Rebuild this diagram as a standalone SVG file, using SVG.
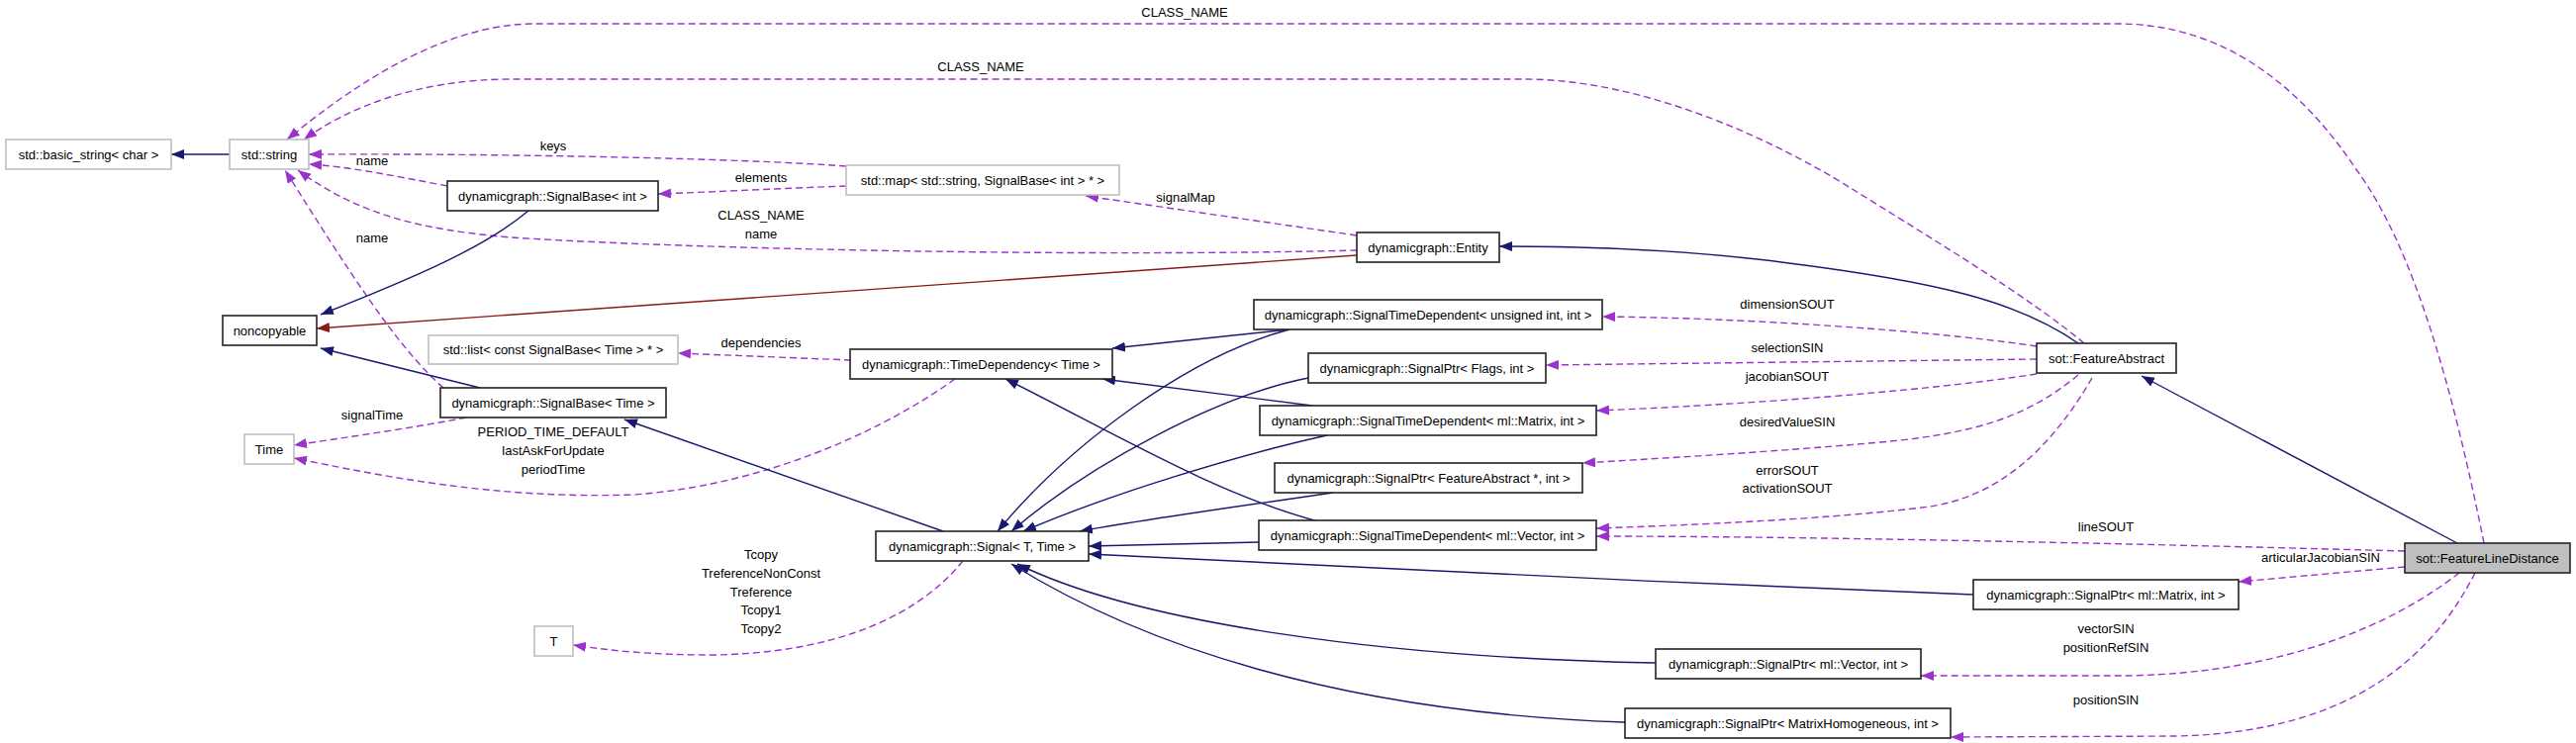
<svg xmlns="http://www.w3.org/2000/svg" width="2603" height="751" viewBox="0 0 2603 751">
<style>
.n rect{fill:#fff;stroke:#222;stroke-width:1.6}
.g rect{fill:#fff;stroke:#bfbfbf;stroke-width:1.6}
.h rect{fill:#bfbfbf;stroke:#222;stroke-width:1.6}
text{font-family:"Liberation Sans",Arial,sans-serif;font-size:13px;fill:#000;text-anchor:middle}
.inh{fill:none;stroke:#191970;stroke-width:1.4;marker-end:url(#ab)}
.red{fill:none;stroke:#8b1a1a;stroke-width:1.4;marker-end:url(#ar)}
.use{fill:none;stroke:#9a32cd;stroke-width:1.4;stroke-dasharray:7,4;marker-end:url(#ap)}
</style>
<defs>
<marker id="ab" markerUnits="userSpaceOnUse" markerWidth="14" markerHeight="10" refX="13" refY="5" orient="auto"><path d="M0,0 L13,5 L0,10 z" fill="#191970"/></marker>
<marker id="ar" markerUnits="userSpaceOnUse" markerWidth="14" markerHeight="10" refX="13" refY="5" orient="auto"><path d="M0,0 L13,5 L0,10 z" fill="#8b1a1a"/></marker>
<marker id="ap" markerUnits="userSpaceOnUse" markerWidth="14" markerHeight="10" refX="13" refY="5" orient="auto"><path d="M0,0 L13,5 L0,10 z" fill="#9a32cd"/></marker>
</defs>
<rect x="0" y="0" width="2603" height="751" fill="#fff"/>
<g id="edges">
<path class="inh" d="M232,156 L173,156"/>
<path class="use" d="M2510,549 C2480,400 2440,250 2380,170 C2320,80 2240,24 2140,24 L540,24 C440,24 340,100 290,141"/>
<text x="1197" y="17">CLASS_NAME</text>
<path class="use" d="M2106,347 C2050,300 1950,240 1870,190 C1790,140 1660,80 1540,80 L517,80 C420,80 350,110 307,141"/>
<text x="991" y="72">CLASS_NAME</text>
<path class="use" d="M855,168 C750,160 500,155 312,156"/>
<text x="559" y="152">keys</text>
<path class="use" d="M855,188 C800,190 720,194 665,196"/>
<text x="769" y="184">elements</text>
<path class="use" d="M452,188 C400,178 350,168 312,166"/>
<text x="376" y="167">name</text>
<path class="use" d="M1371,253 C1100,260 700,252 517,240 C420,232 360,215 301,172"/>
<text x="769" y="222">CLASS_NAME</text>
<text x="769" y="241">name</text>
<path class="use" d="M1371,238 L1097,198"/>
<text x="1198" y="204">signalMap</text>
<path class="use" d="M448,392 C400,350 350,270 288,172"/>
<text x="376" y="245">name</text>
<path class="inh" d="M534,213 C490,250 420,280 324,318"/>
<path class="red" d="M1371,258 L320,332"/>
<path class="inh" d="M485,392 L324,352"/>
<path class="use" d="M471,422 C420,432 350,442 297,450"/>
<text x="376" y="424">signalTime</text>
<path class="use" d="M965,383 C900,430 780,490 640,500 C500,505 380,480 297,463"/>
<text x="559" y="441">PERIOD_TIME_DEFAULT</text>
<text x="559" y="460">lastAskForUpdate</text>
<text x="559" y="479">periodTime</text>
<path class="use" d="M973,567 C930,620 850,660 720,662 C660,662 620,658 579,652"/>
<text x="769" y="565">Tcopy</text>
<text x="769" y="584">TreferenceNonConst</text>
<text x="769" y="603">Treference</text>
<text x="769" y="621">Tcopy1</text>
<text x="769" y="640">Tcopy2</text>
<path class="use" d="M860,364 L685,357"/>
<text x="769" y="351">dependencies</text>
<path class="inh" d="M953,537 L631,424"/>
<path class="inh" d="M1303,333 L1124,352"/>
<path class="inh" d="M1326,410 L1114,383"/>
<path class="inh" d="M1332,527 C1230,500 1130,440 1016,383"/>
<path class="inh" d="M1303,333 C1200,360 1080,450 1008,537"/>
<path class="inh" d="M1322,382 C1230,400 1100,470 1022,537"/>
<path class="inh" d="M1341,440 C1250,460 1120,500 1034,537"/>
<path class="inh" d="M1347,498 C1250,512 1150,526 1091,537"/>
<path class="inh" d="M1272,548 L1100,552"/>
<path class="inh" d="M1994,601 C1700,590 1300,570 1100,560"/>
<path class="inh" d="M1673,670 C1400,665 1150,630 1028,570"/>
<path class="inh" d="M1642,730 C1350,720 1150,650 1022,570"/>
<path class="inh" d="M2100,347 C2040,305 1960,285 1800,265 C1700,252 1600,249 1515,249"/>
<path class="inh" d="M2483,549 L2164,380"/>
<path class="use" d="M2058,350 C1980,338 1800,322 1619,320"/>
<text x="1806" y="312">dimensionSOUT</text>
<path class="use" d="M2058,363 L1562,369"/>
<text x="1806" y="356">selectionSIN</text>
<path class="use" d="M2058,378 C1950,395 1750,410 1613,415"/>
<text x="1806" y="385">jacobianSOUT</text>
<path class="use" d="M2100,379 C2050,420 2000,438 1900,447 C1800,456 1700,462 1599,468"/>
<text x="1806" y="431">desiredValueSIN</text>
<path class="use" d="M2114,382 C2080,440 2030,500 1950,512 C1850,525 1700,531 1613,534"/>
<text x="1806" y="480">errorSOUT</text>
<text x="1806" y="498">activationSOUT</text>
<path class="use" d="M2430,557 C2100,548 1800,542 1613,542"/>
<text x="2128" y="537">lineSOUT</text>
<path class="use" d="M2430,573 L2262,588"/>
<text x="2345" y="568">articularJacobianSIN</text>
<path class="use" d="M2485,579 C2420,630 2310,680 2150,683 L1941,683"/>
<text x="2128" y="640">vectorSIN</text>
<text x="2128" y="659">positionRefSIN</text>
<path class="use" d="M2501,579 C2460,660 2380,740 2200,744 L1971,745"/>
<text x="2128" y="712">positionSIN</text>
</g>
<g id="basic_string" class="g"><rect x="6" y="141" width="167" height="30"/><text x="89.5" y="160.5">std::basic_string&lt; char &gt;</text></g>
<g id="std_string" class="g"><rect x="232" y="141" width="80" height="30"/><text x="272" y="160.5">std::string</text></g>
<g id="signalbase_int" class="n"><rect x="452" y="183" width="213" height="30"/><text x="558.5" y="202.5">dynamicgraph::SignalBase&lt; int &gt;</text></g>
<g id="std_map" class="g"><rect x="855" y="167" width="276" height="30"/><text x="993" y="186.5">std::map&lt; std::string, SignalBase&lt; int &gt; * &gt;</text></g>
<g id="noncopyable" class="n"><rect x="225" y="319" width="95" height="30"/><text x="272.5" y="338.5">noncopyable</text></g>
<g id="std_list" class="g"><rect x="433" y="339" width="252" height="29"/><text x="559" y="358">std::list&lt; const SignalBase&lt; Time &gt; * &gt;</text></g>
<g id="signalbase_time" class="n"><rect x="445" y="392" width="228" height="30"/><text x="559" y="411.5">dynamicgraph::SignalBase&lt; Time &gt;</text></g>
<g id="time" class="g"><rect x="247" y="439" width="50" height="30"/><text x="272" y="458.5">Time</text></g>
<g id="t" class="g"><rect x="540" y="633" width="39" height="30"/><text x="559.5" y="652.5">T</text></g>
<g id="entity" class="n"><rect x="1371" y="235" width="144" height="30"/><text x="1443" y="254.5">dynamicgraph::Entity</text></g>
<g id="timedependency" class="n"><rect x="859" y="353" width="265" height="30"/><text x="991.5" y="372.5">dynamicgraph::TimeDependency&lt; Time &gt;</text></g>
<g id="std_uint" class="n"><rect x="1267" y="303" width="352" height="30"/><text x="1443" y="322.5">dynamicgraph::SignalTimeDependent&lt; unsigned int, int &gt;</text></g>
<g id="sp_flags" class="n"><rect x="1322" y="357" width="240" height="30"/><text x="1442" y="376.5">dynamicgraph::SignalPtr&lt; Flags, int &gt;</text></g>
<g id="std_matrix" class="n"><rect x="1273" y="410" width="340" height="30"/><text x="1443" y="429.5">dynamicgraph::SignalTimeDependent&lt; ml::Matrix, int &gt;</text></g>
<g id="sp_fa" class="n"><rect x="1288" y="468" width="311" height="30"/><text x="1443.5" y="487.5">dynamicgraph::SignalPtr&lt; FeatureAbstract *, int &gt;</text></g>
<g id="std_vector" class="n"><rect x="1272" y="526" width="341" height="30"/><text x="1442.5" y="545.5">dynamicgraph::SignalTimeDependent&lt; ml::Vector, int &gt;</text></g>
<g id="signal" class="n"><rect x="885" y="537" width="215" height="30"/><text x="992.5" y="556.5">dynamicgraph::Signal&lt; T, Time &gt;</text></g>
<g id="sp_matrix" class="n"><rect x="1994" y="586" width="268" height="30"/><text x="2128" y="605.5">dynamicgraph::SignalPtr&lt; ml::Matrix, int &gt;</text></g>
<g id="sp_vector" class="n"><rect x="1673" y="656" width="268" height="30"/><text x="1807" y="675.5">dynamicgraph::SignalPtr&lt; ml::Vector, int &gt;</text></g>
<g id="sp_mh" class="n"><rect x="1642" y="716" width="329" height="30"/><text x="1806.5" y="735.5">dynamicgraph::SignalPtr&lt; MatrixHomogeneous, int &gt;</text></g>
<g id="feature_abstract" class="n"><rect x="2058" y="347" width="141" height="30"/><text x="2128.5" y="366.5">sot::FeatureAbstract</text></g>
<g id="feature_line_distance" class="h"><rect x="2430" y="549" width="167" height="30"/><text x="2513.5" y="568.5">sot::FeatureLineDistance</text></g>
</svg>
